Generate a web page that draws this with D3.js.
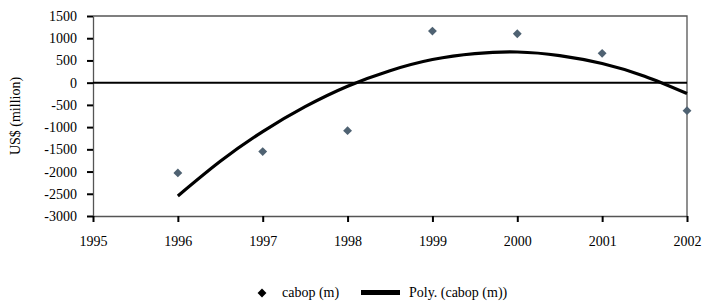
<!DOCTYPE html>
<html>
<head>
<meta charset="utf-8">
<script src="https://cdn.jsdelivr.net/npm/d3@7"></script>
<style>
  body { margin: 0; background: #fff; }
</style>
</head>
<body>
<svg id="chart" width="702" height="303" font-family="Liberation Serif" font-size="14"></svg>
<script>
// data
let years = [1996, 1997, 1998, 1999, 2000, 2001, 2002]
let cabop = [-2030, -1550, -1080, 1160, 1100, 660, -630]
// trend line (Poly. fit), at half years
let trendYears = [1996, 1996.5, 1997, 1997.5, 1998, 1998.5, 1999, 1999.5, 2000, 2000.5, 2001, 2001.5, 2002]
let trendValues = [-2550, -1770, -1100, -540, -80, 270, 520, 655, 690, 610, 430, 145, -245]
let yTicks = [1500, 1000, 500, 0, -500, -1000, -1500, -2000, -2500, -3000]
let xTicks = [1995, 1996, 1997, 1998, 1999, 2000, 2001, 2002]

let margin = {top: 16, left: 93, right: 15, bottom: 87}
let width = 702 - margin.left - margin.right,
    height = 303 - margin.top - margin.bottom

let svg = d3.select("#chart")
let g = svg.append("g")
  .attr("transform", "translate(" + margin.left + "," + margin.top + ")")

let x = d3.scaleLinear().domain([1995, 2002]).range([0, width])
let y = d3.scaleLinear().domain([-3000, 1500]).range([height, 0])

// plot frame (top + right)
g.append("path")
  .attr("d", "M0,0H" + width + "V" + height)
  .attr("fill", "none")
  .attr("stroke", "#555")
  .attr("stroke-width", 1.3)

let plain = function(d) { return String(d) }

// y axis
let yAxis = g.append("g")
  .call(d3.axisLeft(y).tickValues(yTicks).tickFormat(plain).tickSize(6).tickSizeOuter(0).tickPadding(10))
yAxis.select(".domain").attr("stroke", "#555").attr("stroke-width", 1.3)
yAxis.selectAll(".tick line").attr("stroke", "#000").attr("stroke-width", 2)

// x axis
let xAxis = g.append("g")
  .attr("transform", "translate(0," + height + ")")
  .call(d3.axisBottom(x).tickValues(xTicks).tickFormat(plain).tickSize(6).tickSizeOuter(0).tickPadding(14))
xAxis.select(".domain").attr("stroke", "#555").attr("stroke-width", 1.3)
xAxis.selectAll(".tick line").attr("stroke", "#000").attr("stroke-width", 2)

// d3 puts sans-serif / 10px on the axis groups, take it off
yAxis.attr("font-family", null).attr("font-size", null)
xAxis.attr("font-family", null).attr("font-size", null)

// zero line
g.append("line")
  .attr("x1", 0).attr("x2", width)
  .attr("y1", y(0)).attr("y2", y(0))
  .attr("stroke", "#000")
  .attr("stroke-width", 2)

// trend line
let line = d3.line()
  .x(function(d, i) { return x(trendYears[i]) })
  .y(function(d) { return y(d) })
  .curve(d3.curveNatural)
g.append("path")
  .datum(trendValues)
  .attr("d", line)
  .attr("fill", "none")
  .attr("stroke", "#000")
  .attr("stroke-width", 3.2)

// markers
let diamond = d3.symbol().type(d3.symbolDiamond2).size(50)
g.selectAll("path.pt")
  .data(cabop)
  .enter().append("path")
  .attr("class", "pt")
  .attr("d", diamond)
  .attr("transform", function(d, i) { return "translate(" + x(years[i]) + "," + y(d) + ")" })
  .attr("fill", "#4f6272")

// y axis title
svg.append("text")
  .attr("transform", "translate(20," + (margin.top + height / 2) + ") rotate(-90)")
  .attr("text-anchor", "middle")
  .text("US$ (million)")

// legend
let leg = svg.append("g")
leg.append("path")
  .attr("d", diamond)
  .attr("transform", "translate(262,293)")
  .attr("fill", "#000")
leg.append("text")
  .attr("x", 282).attr("y", 297)
  .text("cabop (m)")
leg.append("line")
  .attr("x1", 361).attr("x2", 400)
  .attr("y1", 292.5).attr("y2", 292.5)
  .attr("stroke", "#000")
  .attr("stroke-width", 5)
leg.append("text")
  .attr("x", 409).attr("y", 297)
  .text("Poly. (cabop (m))")
</script>
</body>
</html>
